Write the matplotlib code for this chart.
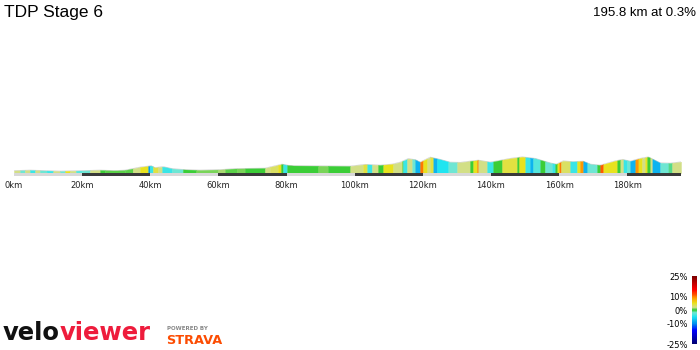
import numpy as np
import matplotlib
matplotlib.use('Agg')
import matplotlib.pyplot as plt
from matplotlib.colors import LinearSegmentedColormap, Normalize
from matplotlib.cm import ScalarMappable

title = 'TDP Stage 6'
summary = '195.8 km at 0.3%'
total_km = 195.8

# elevation profile (km, metres)
profile_km = [0, 4.7, 9.1, 13.5, 20, 25.3, 29.7, 32.6, 37.0, 39.4, 40.2, 41.4, 43.8, 46.4,
              50.2, 54.6, 60.5, 64.9, 73.7, 77.5, 78.7, 81.1, 98.7, 103.1, 107.5, 111.0,
              113.4, 115.7, 117.8, 119.2, 122.2, 125.1, 128.0, 131.0, 136.3, 139.8, 145.7,
              149.2, 153.0, 157.4, 159.2, 161.2, 163.9, 167.1, 169.2, 172.1, 176.5, 178.6,
              180.9, 183.8, 186.2, 189.7, 192.7, 195.8]
profile_elev = [50, 60, 50, 40, 50, 60, 50, 60, 120, 140, 150, 110, 130, 90,
                70, 60, 70, 90, 100, 160, 180, 150, 140, 175, 160, 180,
                220, 290, 270, 220, 320, 275, 220, 215, 260, 220, 295,
                325, 295, 205, 180, 245, 230, 240, 180, 160, 245, 275,
                240, 295, 325, 205, 200, 225]

# gradient segments: start km and gradient %
seg_start = [0, 1.8, 3.2, 4.7, 6.2, 7.6, 9.6, 11.5, 13.5, 15.0, 16.4, 18.2, 20.0, 22.3,
             25.3, 26.7, 32.6, 34.9, 37.0, 39.4, 39.9, 40.8, 42.3, 43.5, 46.4, 49.6,
             53.5, 59.9, 62.0, 65.5, 67.8, 73.7, 75.2, 77.5, 78.4, 79.0, 80.2, 89.3,
             92.2, 98.7, 102.5, 103.7, 105.1, 106.9, 108.4, 111.3, 114.0, 114.2, 115.4,
             116.9, 117.8, 119.2, 120.1, 121.3, 122.2, 123.1, 124.2, 127.5, 130.1, 133.9,
             134.8, 136.0, 136.3, 138.9, 140.7, 143.3, 147.7, 148.3, 150.1, 151.5, 152.4,
             154.5, 155.9, 158.0, 158.9, 159.5, 160.1, 160.6, 163.3, 165.3, 166.2, 167.1,
             168.3, 171.2, 172.1, 173.0, 177.1, 178.0, 178.9, 180.0, 180.9, 182.4, 183.3,
             184.4, 185.3, 185.9, 186.8, 187.4, 189.7, 192.1, 193.2]
seg_grad = [2, -2, 2, -4, 2, -2, -4, 2, -2, 5, 2, -3, -2, 2,
            0, 0.5, 0.5, 2, 5, -9, -4, 4, 2, -4, -2, 0,
            0.8, 1.5, 0.5, 0.8, 0, 2, 3, 5, 0, -4, 0, 0.8,
            0, 2, 4, -4, 2, 0, 5, 2, 0, -4, 2,
            -2, -8, 10, 5, 2, 4, -8, -5, -2, 2, 0,
            5, 10, 2, -4, 0, 4, 0, 5, -4, -8, -3,
            0, -2, -4, 0, 5, 10, 3, -4, 5, 9, -8,
            -2, 0, 11, 5, 0, 2, -4, -2, -8, 9, 5,
            2, 5, 0, 2, -8, -2, -1, 2]

cbar_ticks = [-25, -10, 0, 10, 25]
cbar_labels = ['-25%', '-10%', '0%', '10%', '25%']

grad_cmap = LinearSegmentedColormap.from_list('grad', [
    (0.00, '#000070'), (0.20, '#0000ff'), (0.30, '#0090ee'), (0.40, '#20e5f0'),
    (0.46, '#70e6d2'), (0.50, '#33cc33'), (0.54, '#d2df88'), (0.60, '#e8e21e'),
    (0.68, '#ff9a00'), (0.72, '#ff5a00'), (0.80, '#ff0000'), (1.00, '#7a0000')])
norm = Normalize(-25, 25)

fig = plt.figure(figsize=(7, 3.5), dpi=100)
ax = fig.add_axes([14/700, 150/350, 667/700, 160/350])
ax.set_xlim(0, total_km)
ax.set_ylim(-540, 2660)
ax.axis('off')

# coloured fill per gradient segment
bounds = seg_start + [total_km]
for i, g in enumerate(seg_grad):
    xs = np.linspace(bounds[i], bounds[i + 1], 6)
    ys = np.interp(xs, profile_km, profile_elev)
    ax.fill_between(xs, 0, ys, color=grad_cmap(norm(g)), lw=0.3, ec=grad_cmap(norm(g)))
ax.plot(profile_km, profile_elev, color='#b5b5b5', lw=0.4, alpha=0.6)

# distance bar with alternating 20 km blocks
for k in range(0, 200, 20):
    end = min(k + 20, total_km)
    col = '#3a3a3a' if (k // 20) % 2 else '#d8d8d8'
    ax.fill_between([k, end], -60, 0, color=col, lw=0)
    ax.text(k, -250, f'{k}km', ha='center', va='center', fontsize=6,
            family='DejaVu Sans', color='#222222')

fig.text(4/700, 1 - 12/350, title, fontsize=12.5, family='Liberation Sans',
         va='center', ha='left')
fig.text(696/700, 1 - 13/350, summary, fontsize=9.5, family='Liberation Sans',
         va='center', ha='right')

# colour bar
cax = fig.add_axes([692/700, 6/350, 5/700, 68/350])
cb = fig.colorbar(ScalarMappable(norm=norm, cmap=grad_cmap), cax=cax, ticks=cbar_ticks)
cb.outline.set_visible(False)
cax.yaxis.set_ticks_position('left')
cax.set_yticklabels(cbar_labels, family='DejaVu Sans', fontsize=6)
cax.tick_params(length=0, pad=3)

# branding: "velo" black, "viewer" red right after it
velo = fig.text(3/700, 1 - 333/350, 'velo', fontsize=17.5, fontweight='heavy',
                color='#111111', va='center', ha='left', family='DejaVu Sans')
fig.canvas.draw()
bb = velo.get_window_extent()
fig.text(bb.x1 / fig.bbox.width, 1 - 333/350, 'viewer', fontsize=17.5,
         fontweight='heavy', color='#ee1c3c', va='center', ha='left',
         family='DejaVu Sans')
fig.text(167/700, 1 - 328/350, 'POWERED BY', fontsize=4, color='#888888',
         va='center', ha='left', family='DejaVu Sans', fontweight='bold')
fig.text(166/700, 1 - 340/350, 'STRAVA', fontsize=9.3, color='#fc4c02',
         va='center', ha='left', family='DejaVu Sans', fontweight='heavy')

fig.savefig('out.png', dpi=100)
